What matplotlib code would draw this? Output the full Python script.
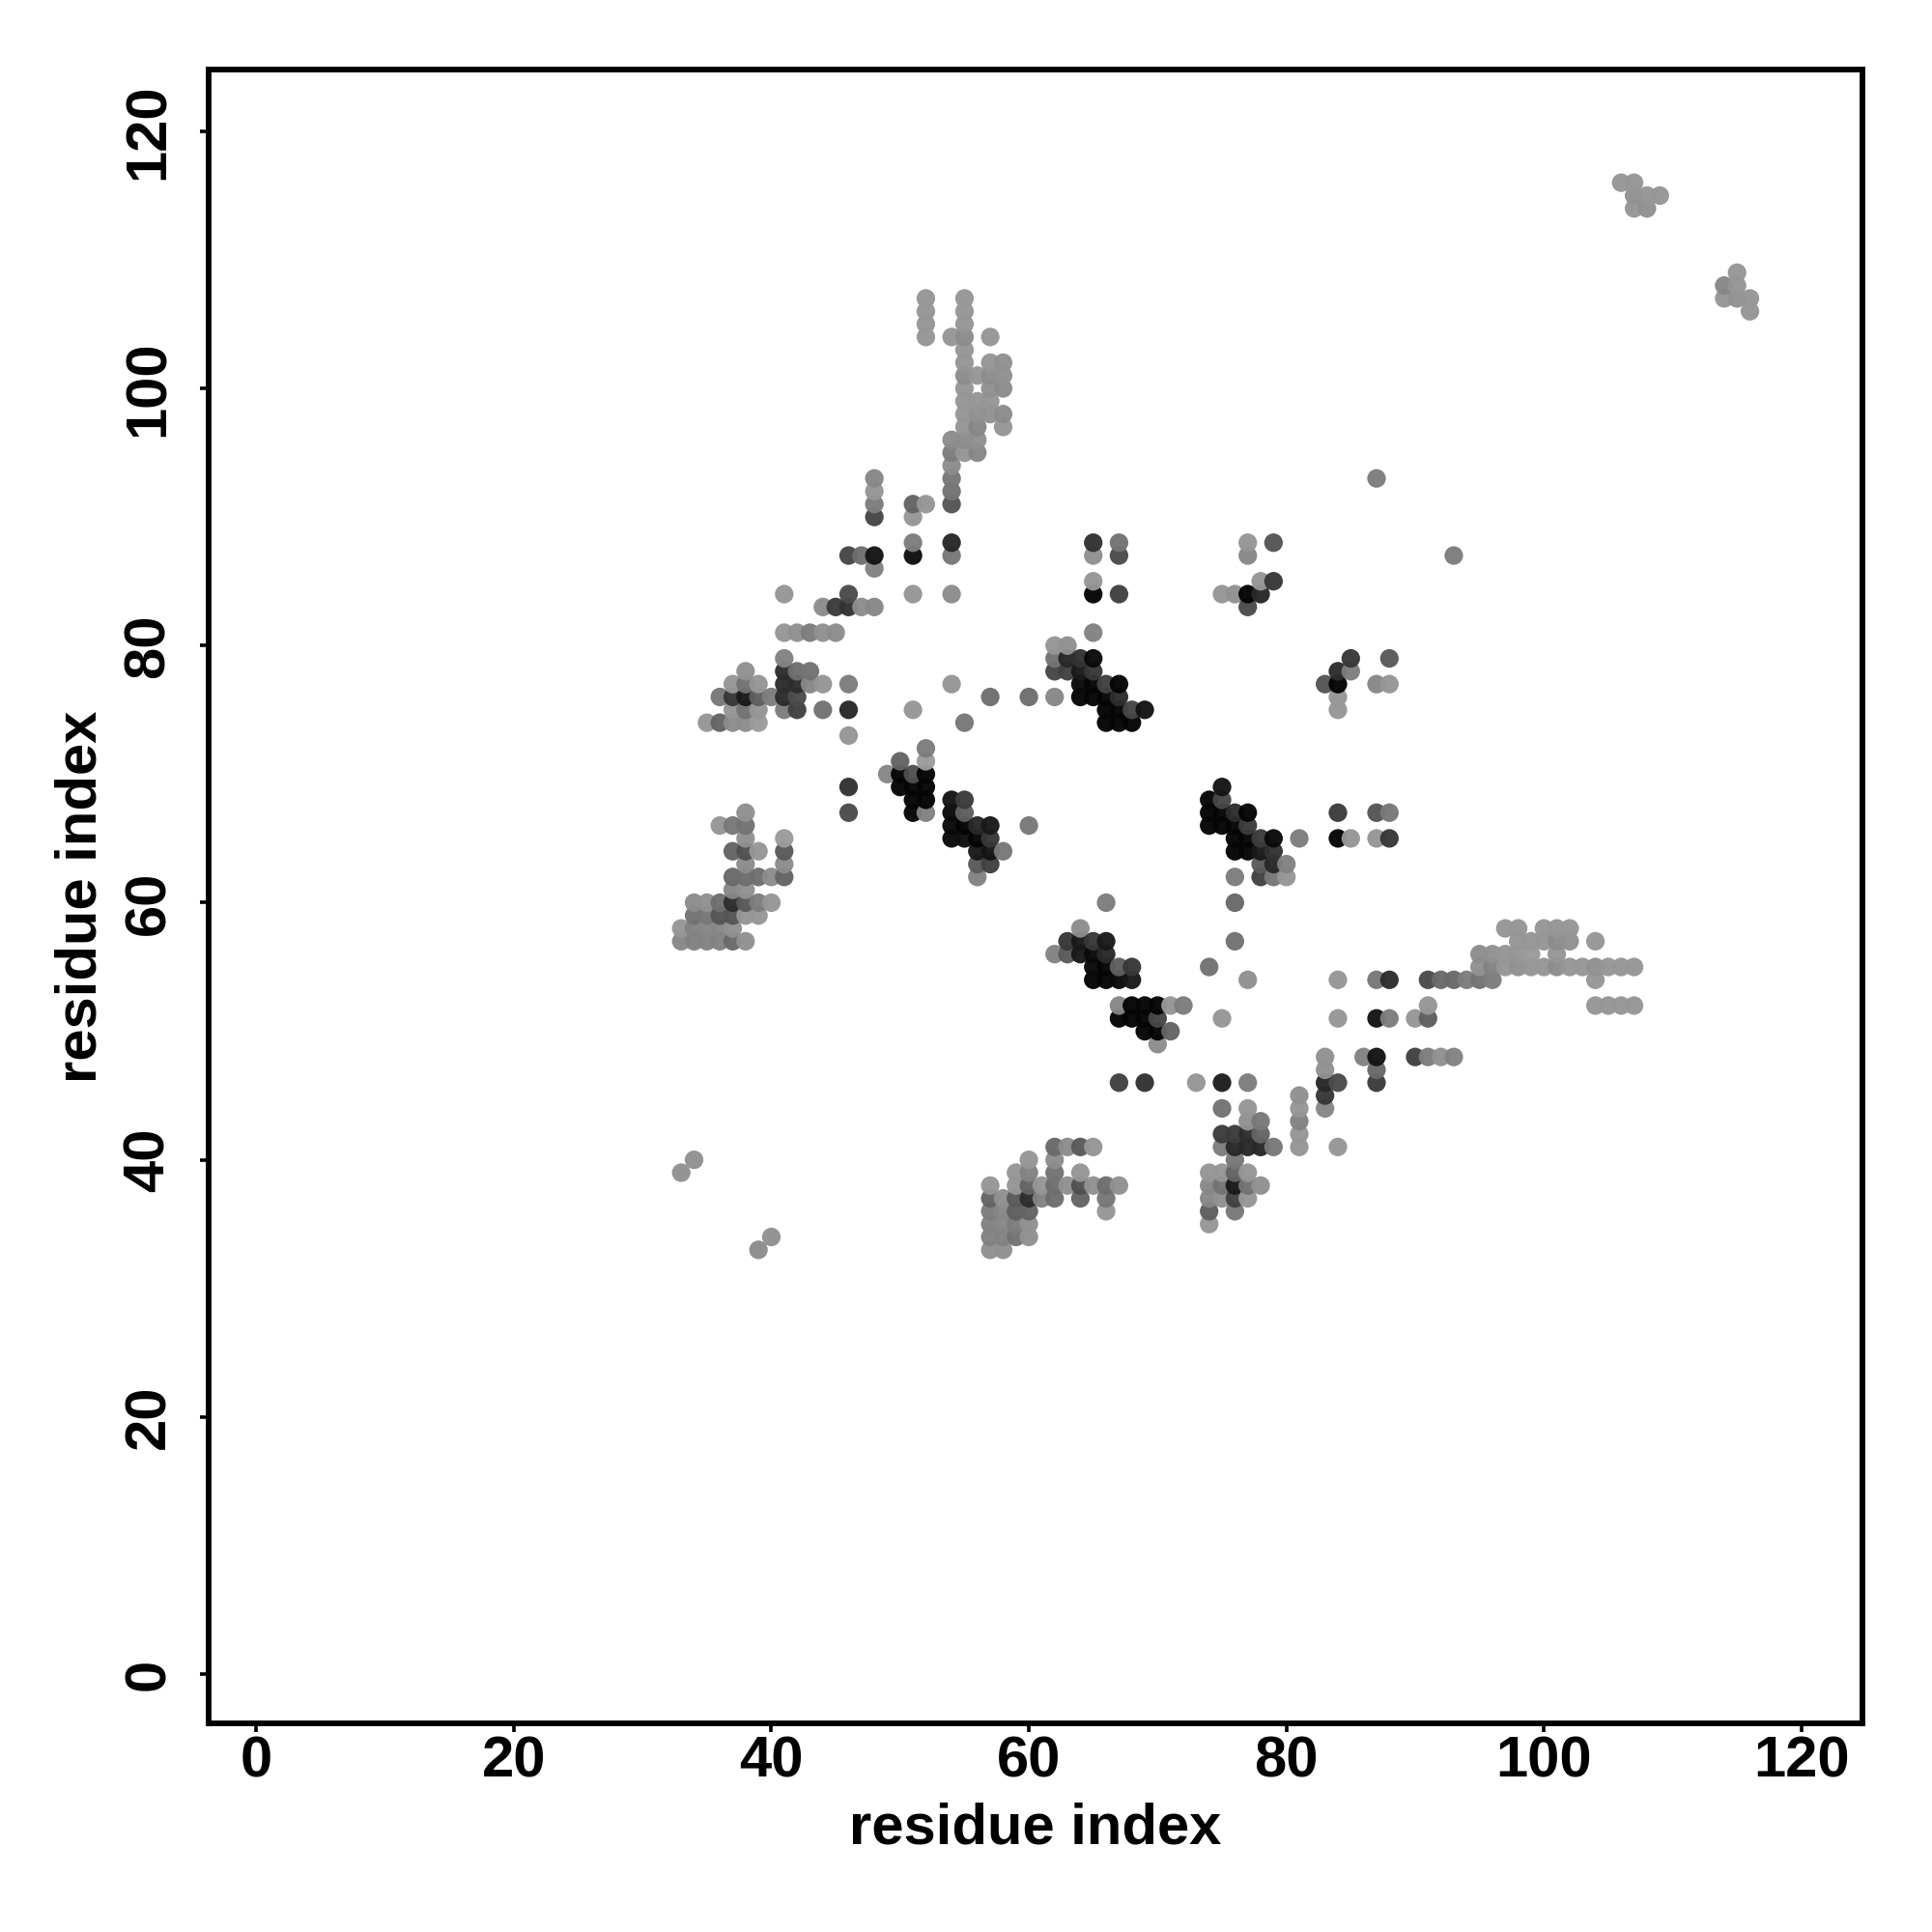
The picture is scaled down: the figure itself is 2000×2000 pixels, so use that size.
import numpy as np
import matplotlib
matplotlib.use("Agg")
import matplotlib.pyplot as plt

plt.rcParams['font.family'] = ['Liberation Sans', 'DejaVu Sans']

# residue contacts, one line per column
# columns[i] is the x residue, rows[i] the y residues, shades[i] the grey level (0-255)
columns = [33, 34, 35, 36, 37, 38, 39, 40, 41, 42, 43, 44, 45, 46, 47, 48, 49, 50, 51, 52,
           54, 55, 56, 57, 58, 59, 60, 61, 62, 63, 64, 65, 66, 67, 68, 69, 70, 71, 72, 73,
           74, 75, 76, 77, 78, 79, 80, 81, 83, 84, 85, 86, 87, 88, 90, 91, 92, 93, 94, 95,
           96, 97, 98, 99, 100, 101, 102, 103, 104, 105, 106, 107, 108, 109, 114, 115, 116]
rows = [
    [39, 57, 58],
    [40, 57, 58, 59, 60],
    [57, 58, 59, 60, 74],
    [57, 58, 59, 60, 66, 74, 76],
    [57, 58, 59, 60, 61, 62, 64, 66, 74, 75, 76, 77],
    [57, 59, 60, 61, 62, 63, 64, 65, 66, 67, 74, 75, 76, 77, 78],
    [33, 59, 60, 62, 64, 74, 75, 76, 77],
    [34, 60, 62, 76],
    [62, 63, 64, 65, 75, 76, 77, 78, 79, 81, 84],
    [75, 76, 77, 78, 81],
    [77, 78, 81],
    [75, 77, 81, 83],
    [81, 83],
    [67, 69, 73, 75, 77, 83, 84, 87],
    [83, 87],
    [83, 86, 87, 90, 91, 92, 93],
    [70],
    [69, 70, 71],
    [67, 68, 69, 70, 75, 84, 87, 88, 90, 91],
    [67, 68, 69, 70, 71, 72, 91, 104, 105, 106, 107],
    [65, 66, 67, 68, 77, 84, 87, 88, 91, 92, 93, 94, 95, 96, 104],
    [65, 66, 67, 68, 74, 95, 96, 97, 98, 99, 100, 101, 102, 103, 104, 105, 106, 107],
    [62, 63, 64, 65, 66, 95, 96, 97, 98, 99, 101],
    [33, 34, 35, 36, 37, 38, 63, 64, 65, 66, 76, 98, 99, 100, 101, 102, 104],
    [33, 34, 35, 36, 37, 64, 97, 98, 100, 101, 102],
    [34, 35, 36, 37, 38, 39],
    [34, 35, 36, 37, 38, 39, 40, 66, 76],
    [37, 38],
    [37, 38, 39, 40, 41, 56, 76, 78, 79, 80],
    [38, 41, 56, 57, 78, 79, 80],
    [37, 38, 39, 41, 56, 57, 58, 76, 77, 78, 79],
    [38, 41, 54, 55, 56, 57, 76, 77, 78, 79, 81, 84, 85, 87, 88],
    [36, 37, 38, 54, 55, 56, 57, 60, 74, 75, 76, 77],
    [38, 46, 51, 52, 54, 55, 74, 75, 76, 77, 84, 87, 88],
    [51, 52, 54, 55, 74, 75],
    [46, 50, 51, 52, 75],
    [49, 50, 51, 52],
    [50, 52],
    [52],
    [46],
    [35, 36, 37, 38, 39, 55, 66, 67, 68],
    [37, 38, 39, 41, 42, 44, 46, 51, 66, 67, 68, 69, 84],
    [36, 37, 38, 39, 40, 41, 42, 57, 60, 62, 64, 65, 66, 67, 84],
    [37, 38, 39, 41, 42, 43, 44, 46, 54, 64, 65, 66, 67, 83, 84, 87, 88],
    [38, 41, 42, 43, 62, 63, 64, 65, 84, 85],
    [41, 62, 63, 64, 65, 85, 88],
    [62, 63],
    [41, 42, 43, 44, 45, 65],
    [44, 45, 46, 47, 48, 77],
    [41, 46, 51, 54, 65, 67, 75, 76, 77, 78],
    [65, 78, 79],
    [48],
    [46, 47, 48, 51, 54, 65, 67, 77, 93],
    [51, 54, 65, 67, 77, 79],
    [48, 51],
    [48, 51, 52, 54],
    [48, 54],
    [48, 54, 87],
    [54],
    [54, 55, 56],
    [54, 55, 56],
    [55, 56, 58],
    [55, 56, 57, 58],
    [55, 56, 57],
    [55, 57, 58],
    [55, 56, 57, 58],
    [55, 57, 58],
    [55],
    [52, 54, 55, 57],
    [52, 55],
    [52, 55, 116],
    [52, 55, 114, 115, 116],
    [114, 115],
    [115],
    [107, 108],
    [107, 108, 109],
    [106, 107],
]
shades = [
    [145, 135, 150],
    [145, 130, 130, 115, 140],
    [130, 135, 120, 145, 150],
    [130, 135, 85, 110, 150, 100, 120],
    [105, 145, 85, 45, 135, 105, 100, 120, 140, 150, 55, 150],
    [145, 150, 90, 145, 110, 140, 80, 145, 115, 145, 140, 115, 25, 115, 145],
    [140, 150, 125, 110, 150, 155, 150, 95, 150],
    [145, 150, 140, 125],
    [100, 140, 90, 155, 125, 45, 45, 45, 130, 150, 150],
    [65, 75, 45, 110, 145],
    [135, 115, 125],
    [115, 150, 145, 140],
    [140, 60],
    [75, 50, 150, 40, 125, 50, 75, 70],
    [140, 110],
    [135, 130, 20, 70, 125, 150, 135],
    [135],
    [5, 5, 100],
    [5, 5, 5, 80, 150, 150, 15, 125, 150, 100],
    [130, 5, 5, 5, 155, 125, 150, 150, 150, 150, 150],
    [10, 10, 10, 20, 150, 140, 120, 40, 85, 115, 120, 140, 125, 140, 150],
    [15, 5, 95, 60, 120, 150, 140, 150, 150, 150, 150, 140, 150, 150, 140, 150, 150, 150],
    [130, 90, 25, 5, 40, 135, 145, 135, 145, 150, 150],
    [145, 130, 130, 125, 100, 150, 65, 20, 55, 25, 110, 145, 150, 145, 140, 150, 150],
    [145, 130, 135, 135, 145, 120, 150, 140, 140, 145, 145],
    [115, 125, 95, 90, 150, 150],
    [145, 145, 100, 45, 100, 130, 150, 120, 110],
    [130, 150],
    [110, 110, 115, 140, 105, 130, 135, 70, 115, 150],
    [145, 140, 90, 55, 65, 40, 145],
    [100, 80, 150, 90, 25, 25, 140, 5, 10, 25, 50],
    [145, 150, 5, 10, 10, 55, 5, 5, 55, 10, 130, 5, 150, 145, 50],
    [150, 120, 110, 5, 5, 40, 25, 125, 5, 5, 5, 65],
    [145, 65, 5, 135, 10, 95, 5, 5, 45, 5, 65, 75, 115],
    [5, 5, 25, 55, 5, 70],
    [50, 5, 5, 5, 20],
    [140, 5, 70, 5],
    [100, 150],
    [125],
    [150],
    [150, 95, 135, 135, 150, 115, 5, 5, 5],
    [145, 115, 150, 125, 60, 115, 30, 150, 5, 5, 70, 20, 150],
    [120, 65, 25, 100, 120, 40, 60, 115, 105, 125, 5, 5, 5, 45, 145],
    [150, 115, 150, 40, 45, 145, 150, 125, 145, 5, 5, 60, 5, 75, 5, 135, 150],
    [145, 40, 100, 120, 65, 90, 25, 60, 40, 150],
    [120, 120, 40, 50, 10, 55, 85],
    [150, 130],
    [150, 150, 130, 150, 145, 125],
    [135, 55, 40, 145, 145, 85],
    [150, 75, 150, 150, 5, 60, 150, 150, 5, 45],
    [150, 125, 55],
    [130],
    [60, 105, 20, 20, 120, 150, 85, 135, 125],
    [125, 45, 55, 120, 150, 90],
    [65, 150],
    [125, 95, 150, 75],
    [145, 105],
    [130, 105, 125],
    [125],
    [115, 145, 140],
    [125, 130, 145],
    [150, 150, 150],
    [145, 150, 150, 150],
    [150, 155, 150],
    [150, 150, 150],
    [140, 150, 140, 150],
    [150, 145, 150],
    [150],
    [150, 150, 145, 150],
    [150, 150],
    [150, 150, 150],
    [150, 150, 150, 145, 150],
    [145, 150],
    [150],
    [150, 135],
    [145, 150, 150],
    [150, 150],
]
tick_values = [0, 20, 40, 60, 80, 100, 120]

x = np.concatenate([[c] * len(r) for c, r in zip(columns, rows)])
y = np.concatenate(rows)
shade = np.concatenate(shades)

fig = plt.figure(figsize=(20, 20), dpi=100)
ax = fig.add_axes([216 / 2000, 1 - 1784 / 2000, (1927.5 - 216) / 2000, (1784 - 72) / 2000])

ax.scatter(x, y, c=shade, cmap='gray', vmin=0, vmax=255, s=192, linewidths=0, alpha=0.97)

ax.set_xlim(-3.7, 124.7)
ax.set_ylim(-3.83, 124.8)
ax.set_xticks(tick_values)
ax.set_yticks(tick_values)
ax.tick_params(length=6.5, width=2.6, labelsize=43)
for lab in ax.get_xticklabels() + ax.get_yticklabels():
    lab.set_fontweight('bold')
for lab in ax.get_yticklabels():
    lab.set_rotation(90)
    lab.set_va('center')
ax.tick_params(axis='x', pad=2.5)
ax.tick_params(axis='y', pad=18)
for sp in ax.spines.values():
    sp.set_linewidth(4.2)

ax.set_xlabel('residue index', fontsize=43, fontweight='bold', labelpad=10)
ax.set_ylabel('residue index', fontsize=43, fontweight='bold', labelpad=11)

fig.savefig('out.png', dpi=100)
